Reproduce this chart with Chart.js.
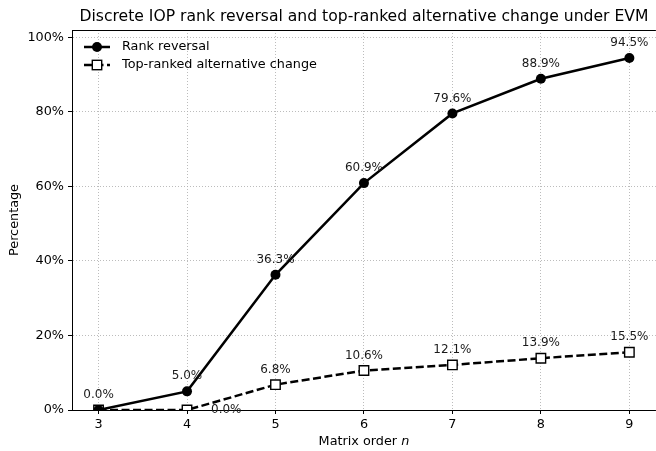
<!DOCTYPE html>
<html>
<head>
<meta charset="utf-8">
<script src="https://cdn.jsdelivr.net/npm/chart.js@4/dist/chart.umd.min.js"></script>
<style>
  html, body { margin: 0; padding: 0; background: #fff; overflow: hidden; width: 656px; height: 451px; }
  canvas { display: block; }
</style>
</head>
<body>
<canvas id="chart" width="664" height="451"></canvas>
<script>
const orders = [3, 4, 5, 6, 7, 8, 9];
const rankReversal = [0.0, 5.0, 36.3, 60.9, 79.6, 88.9, 94.5];
const topChange = [0.0, 0.0, 6.8, 10.6, 12.1, 13.9, 15.5];
const yTicks = [0, 20, 40, 60, 80, 100];
const seriesNames = ['Rank reversal', 'Top-ranked alternative change'];

const FONT = '"DejaVu Sans", sans-serif';

// titles, legend, value labels, top spine
const decorations = {
    id: 'decorations',
    afterDatasetsDraw(chart) {
        const ctx = chart.ctx;
        const area = chart.chartArea;
        ctx.save();

        // top spine
        ctx.strokeStyle = '#000';
        ctx.lineWidth = 1;
        ctx.beginPath();
        ctx.moveTo(area.left, area.top + 0.5);
        ctx.lineTo(area.right, area.top + 0.5);
        ctx.stroke();

        // value labels
        ctx.fillStyle = '#1a1a1a';
        ctx.font = '12px ' + FONT;
        const m0 = chart.getDatasetMeta(0).data;
        const m1 = chart.getDatasetMeta(1).data;
        rankReversal.forEach((v, i) => {
            ctx.textAlign = 'center';
            ctx.textBaseline = 'bottom';
            ctx.fillText(v.toFixed(1) + '%', m0[i].x, m0[i].y - 9);
        });
        topChange.forEach((v, i) => {
            if (v === 0 && rankReversal[i] === 0) return;
            if (v === 0) {
                ctx.textAlign = 'left';
                ctx.textBaseline = 'middle';
                ctx.fillText(v.toFixed(1) + '%', m1[i].x + 24, m1[i].y);
            } else {
                ctx.textAlign = 'center';
                ctx.textBaseline = 'bottom';
                ctx.fillText(v.toFixed(1) + '%', m1[i].x, m1[i].y - 9);
            }
        });

        // title
        const cx = (area.left + area.right) / 2;
        ctx.fillStyle = '#000';
        ctx.font = '15.6px ' + FONT;
        ctx.textAlign = 'center';
        ctx.textBaseline = 'middle';
        ctx.fillText('Discrete IOP rank reversal and top-ranked alternative change under EVM', cx, 17);

        // x axis title with italic n
        ctx.font = '12.8px ' + FONT;
        const t1 = 'Matrix order ';
        const w1 = ctx.measureText(t1).width;
        ctx.font = 'italic 12.8px ' + FONT;
        const w2 = ctx.measureText('n').width;
        let x0 = cx - (w1 + w2) / 2;
        ctx.textAlign = 'left';
        ctx.font = '12.8px ' + FONT;
        ctx.fillText(t1, x0, 442);
        ctx.font = 'italic 12.8px ' + FONT;
        ctx.fillText('n', x0 + w1, 442);

        // y axis title
        ctx.font = '12.8px ' + FONT;
        ctx.textAlign = 'center';
        ctx.translate(15, (area.top + area.bottom) / 2);
        ctx.rotate(-Math.PI / 2);
        ctx.fillText('Percentage', 0, 0);
        ctx.restore();

        // legend
        ctx.save();
        const items = [
            { y: 47, dash: [], shape: 'circle' },
            { y: 65, dash: [8, 3.5], shape: 'rect' }
        ];
        items.forEach((it, k) => {
            ctx.strokeStyle = '#000';
            ctx.lineWidth = 2.5;
            ctx.setLineDash(it.dash);
            ctx.beginPath();
            ctx.moveTo(84, it.y);
            ctx.lineTo(110, it.y);
            ctx.stroke();
            ctx.setLineDash([]);
            if (it.shape === 'circle') {
                ctx.fillStyle = '#000';
                ctx.beginPath();
                ctx.arc(97, it.y, 5, 0, Math.PI * 2);
                ctx.fill();
            } else {
                ctx.fillStyle = '#fff';
                ctx.lineWidth = 1.4;
                ctx.fillRect(92.3, it.y - 4.7, 9.4, 9.4);
                ctx.strokeRect(92.3, it.y - 4.7, 9.4, 9.4);
            }
            ctx.fillStyle = '#000';
            ctx.font = '12.8px ' + FONT;
            ctx.textAlign = 'left';
            ctx.textBaseline = 'middle';
            ctx.fillText(seriesNames[k], 122, it.y);
        });
        ctx.restore();
    }
};

const gridStyle = {
    color: 'rgba(176,176,176,0.95)',
    lineWidth: 0.9,
    drawTicks: true,
    tickLength: 4,
    tickColor: '#000',
    tickWidth: 1,
    tickBorderDash: []
};

const ctx = document.getElementById('chart').getContext('2d');
const chart = new Chart(ctx, {
    type: 'line',
    data: {
        datasets: [
            {
                label: seriesNames[0],
                data: orders.map((n, i) => ({ x: n, y: rankReversal[i] })),
                borderColor: '#000',
                backgroundColor: '#000',
                borderWidth: 2.5,
                pointRadius: 5,
                pointHoverRadius: 5,
                pointBackgroundColor: '#000',
                pointBorderWidth: 0
            },
            {
                label: seriesNames[1],
                data: orders.map((n, i) => ({ x: n, y: topChange[i] })),
                borderColor: '#000',
                backgroundColor: '#fff',
                borderWidth: 2.5,
                borderDash: [8, 3.5],
                pointStyle: 'rect',
                pointRadius: 6.7,
                pointHoverRadius: 6.7,
                pointBackgroundColor: '#fff',
                pointBorderColor: '#000',
                pointBorderWidth: 1.4
            }
        ]
    },
    options: {
        responsive: false,
        animation: false,
        devicePixelRatio: 1,
        events: [],
        layout: { padding: { top: 30, right: 0, left: 0, bottom: 0 } },
        plugins: {
            legend: { display: false },
            title: { display: false },
            tooltip: { enabled: false }
        },
        scales: {
            x: {
                type: 'linear',
                min: 2.7,
                max: 9.3,
                afterFit(scale) {
                    scale.height = 41;
                    scale.paddingLeft = 0;
                    scale.paddingRight = 0;
                },
                afterBuildTicks(scale) { scale.ticks = orders.map(v => ({ value: v })); },
                ticks: {
                    color: '#000',
                    font: { family: FONT, size: 12.8 },
                    padding: 3,
                    maxRotation: 0,
                    callback: v => String(v)
                },
                grid: gridStyle,
                border: { display: true, color: '#000', width: 1, dash: [1, 2] }
            },
            y: {
                type: 'linear',
                min: 0,
                max: 102,
                afterFit(scale) {
                    scale.width = 72;
                    scale.paddingTop = 0;
                    scale.paddingBottom = 0;
                },
                afterBuildTicks(scale) { scale.ticks = yTicks.map(v => ({ value: v })); },
                ticks: {
                    color: '#000',
                    font: { family: FONT, size: 12.8 },
                    padding: 4,
                    callback: v => v + '%'
                },
                grid: gridStyle,
                border: { display: true, color: '#000', width: 1, dash: [1, 2] }
            }
        }
    },
    plugins: [decorations]
});
</script>
</body>
</html>
